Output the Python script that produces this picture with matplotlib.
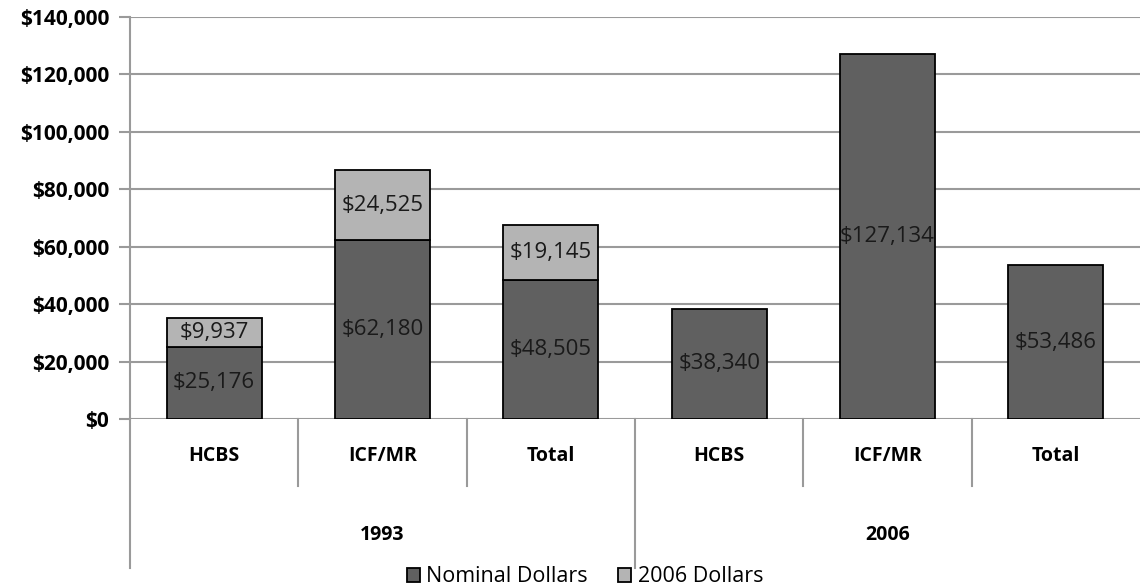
import numpy as np
import matplotlib.pyplot as plt

plt.rcParams['font.family'] = ['Open Sans', 'DejaVu Sans']

years = ['1993', '2006']
programs = ['HCBS', 'ICF/MR', 'Total']
nominal = [25176, 62180, 48505, 38340, 127134, 53486]
real_extra = [9937, 24525, 19145, 0, 0, 0]  # added amount in 2006 dollars

dark = '#606060'
light = '#b4b4b4'
grid_c = '#9a9a9a'

fig = plt.figure(figsize=(11.4, 5.88), dpi=100)
ax = fig.add_axes([130 / 1140, 1 - 419 / 588, 1 - 130 / 1140, (419 - 17) / 588])

x = np.arange(len(nominal))
w = 0.565
b1 = ax.bar(x, nominal, w, color=dark, edgecolor='black', linewidth=1.3,
            label='Nominal Dollars', zorder=3)
extra = np.array(real_extra)
mask = extra > 0
b2 = ax.bar(x[mask], extra[mask], w, bottom=np.array(nominal)[mask], color=light,
            edgecolor='black', linewidth=1.3, label='2006 Dollars', zorder=3)

for xi, v in zip(x, nominal):
    ax.text(xi, v / 2, '${:,}'.format(v), ha='center', va='center',
            fontsize=16, color='#1a1a1a', zorder=4)
for xi, base, v in zip(x, nominal, real_extra):
    if v > 0:
        ax.text(xi, base + v / 2, '${:,}'.format(v), ha='center', va='center',
                fontsize=16, color='#1a1a1a', zorder=4)

ax.set_xlim(-0.5, 5.5)
ax.set_ylim(0, 140000)
ax.set_yticks(np.arange(0, 140001, 20000))
ax.set_yticklabels(['${:,}'.format(t) for t in range(0, 140001, 20000)],
                   fontweight='bold', fontsize=15)
ax.tick_params(axis='y', length=8, width=1.5, color=grid_c, pad=7)
ax.set_xticks([])
ax.yaxis.grid(True, color=grid_c, linewidth=1.5, zorder=0)
for s in ['top', 'right', 'bottom']:
    ax.spines[s].set_visible(False)
ax.spines['left'].set_color(grid_c)
ax.spines['left'].set_linewidth(1.5)
ax.spines['left'].set_bounds(0, 140000)

# two-level category axis below the plot
tr = ax.get_xaxis_transform()
short_y = -(486 - 419) / 402
long_y = -(568 - 419) / 402
ax.plot([-0.5, -0.5], [0, long_y], transform=tr, color=grid_c, lw=1.5, clip_on=False)
ax.plot([2.5, 2.5], [0, long_y], transform=tr, color=grid_c, lw=1.5, clip_on=False)
for sx in [0.5, 1.5, 3.5, 4.5]:
    ax.plot([sx, sx], [0, short_y], transform=tr, color=grid_c, lw=1.5, clip_on=False)

for i, name in enumerate(programs * 2):
    ax.text(i, -(456 - 419) / 402, name, transform=tr, ha='center', va='center',
            fontsize=14, fontweight='bold')
for j, yr in enumerate(years):
    ax.text(1 + 3 * j, -(535 - 419) / 402, yr, transform=tr, ha='center', va='center',
            fontsize=14, fontweight='bold')

fig.legend(handles=[b1, b2], loc='center', bbox_to_anchor=(585 / 1140, 1 - 577 / 588),
           ncol=2, frameon=False, fontsize=15.5, handlelength=0.6, handleheight=0.6,
           handletextpad=0.3, columnspacing=1.4, borderpad=0)

fig.savefig('out.png', dpi=100)
